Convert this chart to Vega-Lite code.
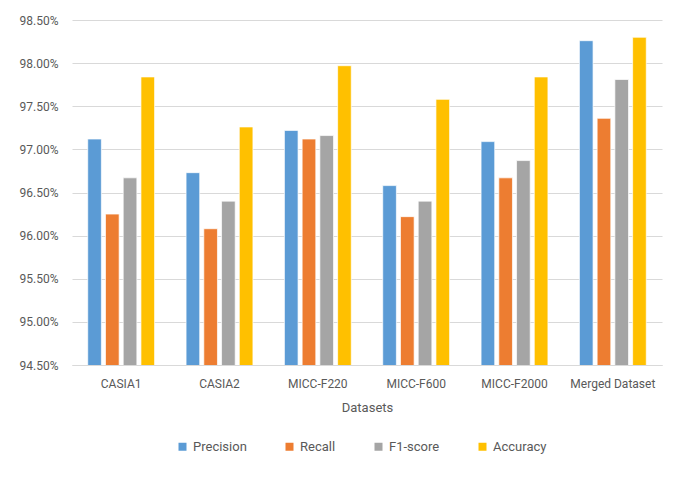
{
  "$schema": "https://vega.github.io/schema/vega-lite/v6.json",
  "width": 590,
  "height": 345,
  "autosize": {"type": "none"},
  "padding": {"left": 72, "top": 20, "right": 23, "bottom": 116},
  "background": "white",
  "config": {
    "view": {"stroke": null},
    "font": "Roboto",
    "axis": {"labelColor": "#595959", "titleColor": "#595959", "labelFontSize": 12, "titleFontSize": 13, "titleFontWeight": "normal"},
    "legend": {"labelColor": "#595959", "labelFontSize": 13}
  },
  "data": {
    "values": [
      {"dataset": "CASIA1", "metric": "Precision", "value": 0.9712},
      {"dataset": "CASIA1", "metric": "Recall", "value": 0.9625},
      {"dataset": "CASIA1", "metric": "F1-score", "value": 0.9667},
      {"dataset": "CASIA1", "metric": "Accuracy", "value": 0.9784},
      {"dataset": "CASIA2", "metric": "Precision", "value": 0.9673},
      {"dataset": "CASIA2", "metric": "Recall", "value": 0.9608},
      {"dataset": "CASIA2", "metric": "F1-score", "value": 0.9640},
      {"dataset": "CASIA2", "metric": "Accuracy", "value": 0.9726},
      {"dataset": "MICC-F220", "metric": "Precision", "value": 0.9722},
      {"dataset": "MICC-F220", "metric": "Recall", "value": 0.9712},
      {"dataset": "MICC-F220", "metric": "F1-score", "value": 0.9716},
      {"dataset": "MICC-F220", "metric": "Accuracy", "value": 0.9797},
      {"dataset": "MICC-F600", "metric": "Precision", "value": 0.9658},
      {"dataset": "MICC-F600", "metric": "Recall", "value": 0.9622},
      {"dataset": "MICC-F600", "metric": "F1-score", "value": 0.9640},
      {"dataset": "MICC-F600", "metric": "Accuracy", "value": 0.9758},
      {"dataset": "MICC-F2000", "metric": "Precision", "value": 0.9709},
      {"dataset": "MICC-F2000", "metric": "Recall", "value": 0.9667},
      {"dataset": "MICC-F2000", "metric": "F1-score", "value": 0.9687},
      {"dataset": "MICC-F2000", "metric": "Accuracy", "value": 0.9784},
      {"dataset": "Merged Dataset", "metric": "Precision", "value": 0.9826},
      {"dataset": "Merged Dataset", "metric": "Recall", "value": 0.9736},
      {"dataset": "Merged Dataset", "metric": "F1-score", "value": 0.9781},
      {"dataset": "Merged Dataset", "metric": "Accuracy", "value": 0.9830}
    ]
  },
  "mark": {"type": "bar", "stroke": "white", "strokeWidth": 0.7, "clip": true},
  "encoding": {
    "x": {
      "field": "dataset", "type": "nominal", "sort": null,
      "scale": {"paddingInner": 0.32, "paddingOuter": 0.16},
      "axis": {"title": "Datasets", "labelAngle": 0, "ticks": false, "domainColor": "#D9D9D9", "labelPadding": 13, "titlePadding": 12}
    },
    "xOffset": {
      "field": "metric", "type": "nominal",
      "sort": ["Precision", "Recall", "F1-score", "Accuracy"],
      "scale": {"paddingInner": 0.23}
    },
    "y": {
      "field": "value", "type": "quantitative",
      "scale": {"domain": [0.945, 0.985], "zero": false, "nice": false},
      "axis": {"title": null, "format": ".2%", "values": [0.945, 0.95, 0.955, 0.96, 0.965, 0.97, 0.975, 0.98, 0.985], "domain": false, "ticks": false, "gridColor": "#D9D9D9", "labelPadding": 14}
    },
    "color": {
      "field": "metric", "type": "nominal",
      "sort": ["Precision", "Recall", "F1-score", "Accuracy"],
      "scale": {"domain": ["Precision", "Recall", "F1-score", "Accuracy"], "range": ["#5B9BD5", "#ED7D31", "#A5A5A5", "#FFC000"]},
      "legend": {"title": null, "orient": "none", "direction": "horizontal", "legendX": 104, "legendY": 420, "symbolType": "square", "symbolSize": 64, "symbolStrokeWidth": 0, "columnPadding": 36, "labelOffset": 4}
    }
  }
}
